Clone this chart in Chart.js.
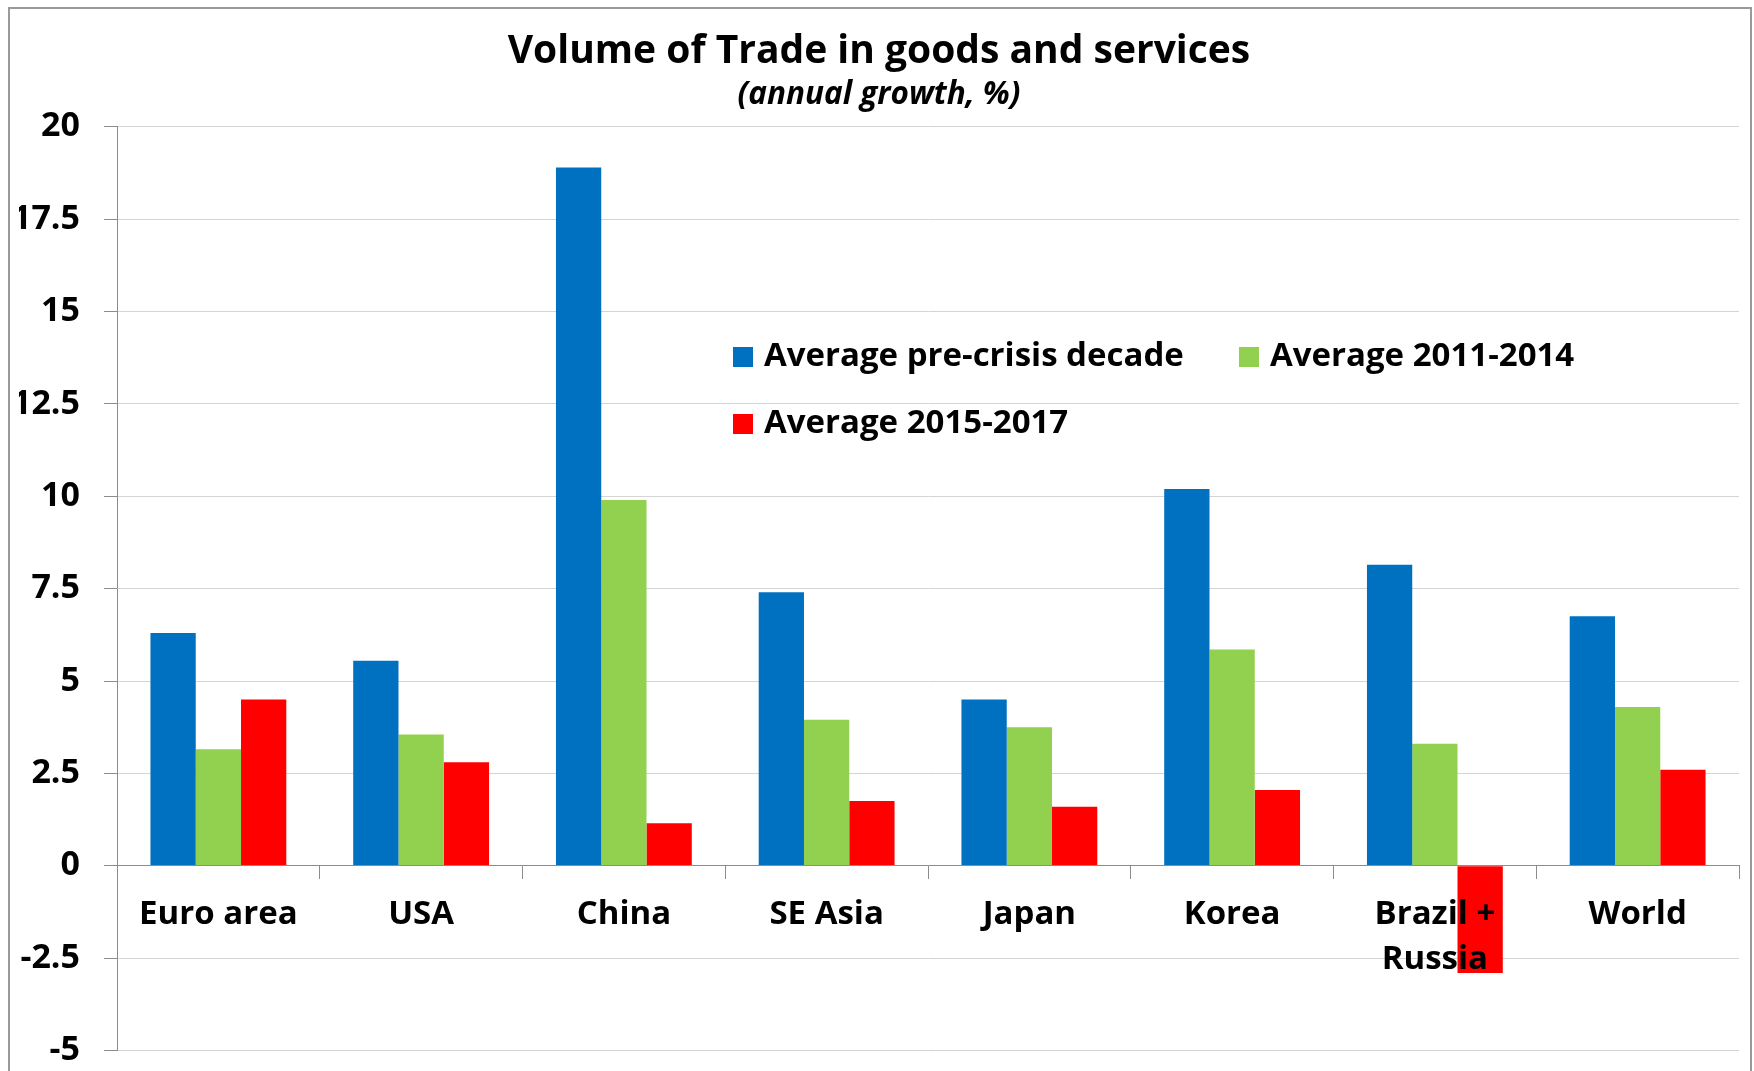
<!DOCTYPE html>
<html>
<head>
<meta charset="utf-8">
<title>Volume of Trade in goods and services</title>
<script src="https://cdn.jsdelivr.net/npm/chart.js@4.4.1/dist/chart.umd.min.js"></script>
<style>
  html, body { margin: 0; padding: 0; background: #fff; }
  #wrap { position: relative; width: 1754px; height: 1071px; overflow: hidden; }
  #frame { position: absolute; left: 8px; top: 7px; width: 1744px; height: 1100px; border: 2px solid #9a9a9a; box-sizing: border-box; }
  #tradeChart { position: absolute; left: 0; top: 0; }
</style>
</head>
<body>
<div id="wrap">
  <div id="frame"></div>
  <canvas id="tradeChart" width="1754" height="1071"></canvas>
</div>
<script>
//Data
var categories = ['Euro area', 'USA', 'China', 'SE Asia', 'Japan', 'Korea', ['Brazil +', 'Russia'], 'World'];
var seriesNames = ['Average pre-crisis decade', 'Average 2011-2014', 'Average 2015-2017'];
var preCrisis = [6.3, 5.55, 18.9, 7.4, 4.5, 10.2, 8.15, 6.75];
var avg2011to2014 = [3.15, 3.55, 9.9, 3.95, 3.75, 5.85, 3.3, 4.3];
var avg2015to2017 = [4.5, 2.8, 1.15, 1.75, 1.6, 2.05, -2.9, 2.6];
var yTickValues = [-5, -2.5, 0, 2.5, 5, 7.5, 10, 12.5, 15, 17.5, 20];

var fontFamily = "'Open Sans', sans-serif";

//Legend drawn inside the plot area, two columns like the original
var insideLegend = {
  id: 'insideLegend',
  afterDraw: function (chart, args, opts) {
    var ctx = chart.ctx;
    ctx.save();
    ctx.font = 'bold ' + opts.size + 'px ' + fontFamily;
    ctx.textBaseline = 'middle';
    ctx.textAlign = 'left';
    chart.data.datasets.forEach(function (ds, i) {
      var slot = opts.slots[i];
      ctx.fillStyle = ds.backgroundColor;
      ctx.fillRect(slot.x, slot.y - opts.box / 2, opts.box, opts.box);
      ctx.fillStyle = '#000';
      ctx.fillText(ds.label, slot.x + opts.box + opts.gap, slot.y);
    });
    ctx.restore();
  }
};

var ctx = document.getElementById('tradeChart');

var tradeChart = new Chart(ctx, {
  type: 'bar',
  data: {
    labels: categories,
    datasets: [
      { label: seriesNames[0], data: preCrisis, backgroundColor: '#0070C0' },
      { label: seriesNames[1], data: avg2011to2014, backgroundColor: '#92D050' },
      { label: seriesNames[2], data: avg2015to2017, backgroundColor: '#FF0000' }
    ]
  },
  options: {
    responsive: false,
    animation: false,
    layout: { padding: { left: 19, right: 15, top: 0, bottom: 20.5 } },
    datasets: {
      bar: { categoryPercentage: 0.67, barPercentage: 1.0, borderWidth: 0 }
    },
    scales: {
      x: {
        position: { y: 0 },
        afterFit: function (scale) { scale.height = 0; },
        border: { color: '#8c8c8c', width: 1, z: 1 },
        grid: { drawOnChartArea: false, offset: true, tickColor: '#8c8c8c', tickLength: 13 },
        ticks: {
          z: 1,
          color: '#000',
          padding: 13,
          maxRotation: 0,
          autoSkip: false,
          font: { family: fontFamily, size: 33, weight: 'bold', lineHeight: 1.37 }
        }
      },
      y: {
        min: -5,
        max: 20,
        afterBuildTicks: function (scale) {
          scale.ticks = yTickValues.map(function (v) { return { value: v }; });
        },
        afterFit: function (scale) {
          scale.width = 98;
          scale.paddingTop = 0;
          scale.paddingBottom = 0;
        },
        border: { color: '#8c8c8c', width: 1 },
        grid: { color: '#d4d4d4', tickColor: '#8c8c8c', tickLength: 13 },
        ticks: {
          color: '#000',
          padding: 24,
          callback: function (v) { return String(v); },
          font: { family: fontFamily, size: 34, weight: 'bold' }
        }
      }
    },
    plugins: {
      legend: { display: false },
      tooltip: { enabled: false },
      title: {
        display: true,
        text: 'Volume of Trade in goods and services',
        color: '#000',
        font: { family: fontFamily, size: 39, weight: 'bold' },
        padding: { top: 28, bottom: 1.7 }
      },
      subtitle: {
        display: true,
        text: '(annual growth, %)',
        color: '#000',
        font: { family: fontFamily, size: 31.5, weight: 'bold', style: 'italic' },
        padding: { top: 0, bottom: 12.5 }
      },
      insideLegend: {
        size: 33,
        box: 20,
        gap: 11,
        slots: [{ x: 733, y: 357 }, { x: 1239, y: 357 }, { x: 733, y: 424 }]
      }
    }
  },
  plugins: [insideLegend]
});
</script>
</body>
</html>
